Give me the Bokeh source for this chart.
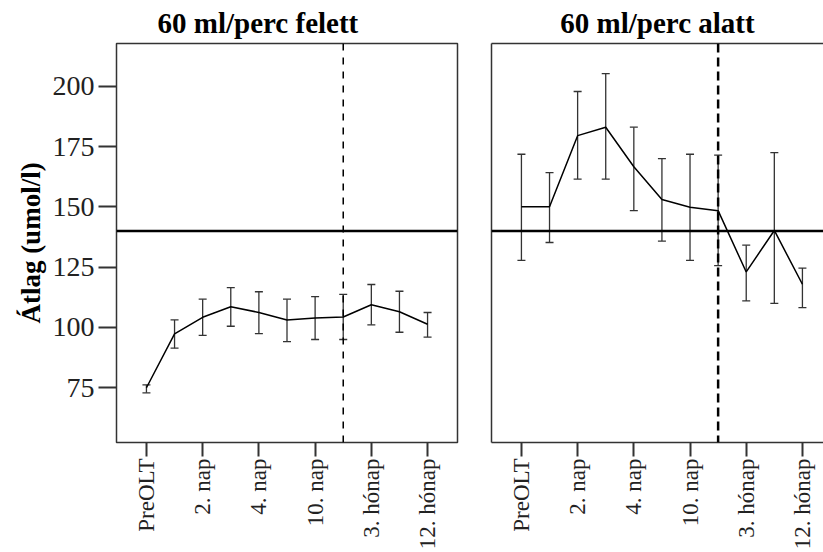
from math import pi
from bokeh.plotting import figure
from bokeh.models import (ColumnDataSource, Whisker, Span, FixedTicker, TeeHead,
                          Range1d, LinearAxis)
from bokeh.layouts import row
from bokeh.embed import file_html
from bokeh.resources import INLINE

# ---------------- data ----------------
categories = ["PreOLT", "1. nap", "2. nap", "3. nap", "4. nap", "7. nap",
              "10. nap", "1. hónap", "3. hónap", "6. hónap", "12. hónap"]
panel_titles = ["60 ml/perc felett", "60 ml/perc alatt"]
y_label = "Átlag (umol/l)"

above_mean = [75.0, 97.3, 104.2, 108.6, 106.2, 103.1, 103.9, 104.3, 109.4, 106.5, 101.3]
above_low = [72.9, 91.4, 96.7, 100.5, 97.4, 94.1, 95.0, 95.0, 101.1, 98.0, 96.0]
above_high = [76.2, 103.1, 111.7, 116.5, 114.8, 111.7, 112.8, 113.7, 117.8, 115.0, 106.2]

below_mean = [150.0, 150.0, 179.5, 183.0, 166.6, 153.0, 149.8, 148.4, 123.0, 140.2, 117.9]
below_low = [127.8, 135.2, 161.5, 161.5, 148.4, 135.8, 127.8, 125.6, 111.0, 110.0, 108.2]
below_high = [171.8, 164.2, 197.8, 205.2, 183.0, 170.0, 171.8, 171.4, 134.1, 172.5, 124.6]

reference_level = 140
marker_index = 7
y_ticks = [75, 100, 125, 150, 175, 200]
# --------------------------------------

FONT = "Liberation Serif"
FRAME = "#333333"
Y_RANGE = (52.3, 217.7)
tick_idx = list(range(0, len(categories), 2))
tick_labels = {i: categories[i] for i in tick_idx}


def make_panel(title, mean, low, high, width, x_end, left_border, right_border,
               show_y, dash, dash_width, title_align, title_offset):
    xs = list(range(len(categories)))
    src = ColumnDataSource(dict(x=xs, mean=mean, low=low, high=high))
    p = figure(width=width, height=552, output_backend="svg", toolbar_location=None,
               x_range=Range1d(-1.065, x_end), y_range=Range1d(*Y_RANGE),
               min_border_left=left_border, min_border_right=right_border,
               min_border_top=42, min_border_bottom=109, title=title)
    p.background_fill_color = "white"
    p.border_fill_color = "white"
    p.grid.visible = False
    p.title.text = title
    p.title.align = title_align
    p.title.offset = title_offset
    p.title.text_font = FONT
    p.title.text_font_style = "bold"
    p.title.text_font_size = "29px"
    p.title.text_color = "black"
    p.title.standoff = 9

    # x axis
    xa = p.xaxis[0]
    xa.ticker = FixedTicker(ticks=tick_idx)
    xa.major_label_overrides = tick_labels
    xa.major_label_orientation = pi / 2
    xa.major_label_text_font = FONT
    xa.major_label_text_font_size = "23px"
    xa.major_label_text_color = "#222222"
    xa.major_label_standoff = 2
    xa.major_tick_out = 14
    xa.major_tick_in = 0
    xa.major_tick_line_width = 2
    xa.major_tick_line_color = FRAME
    xa.minor_tick_line_color = None

    ya = p.yaxis[0]
    ya.minor_tick_line_color = None
    if show_y:
        ya.ticker = FixedTicker(ticks=y_ticks)
        ya.major_label_text_font = FONT
        ya.major_label_text_font_size = "28px"
        ya.major_label_text_color = "#222222"
        ya.major_label_standoff = 4
        ya.major_tick_out = 18
        ya.major_tick_in = 0
        ya.major_tick_line_width = 2
        ya.major_tick_line_color = FRAME
        ya.axis_label = y_label
        ya.axis_label_text_font = FONT
        ya.axis_label_text_font_style = "bold"
        ya.axis_label_text_font_size = "27px"
        ya.axis_label_text_color = "black"
        ya.axis_label_standoff = 4
        xa.axis_line_color = None
        ya.axis_line_color = None
        p.outline_line_color = FRAME
        p.outline_line_width = 1.5
        p.outline_line_alpha = 1.0
    else:
        ya.ticker = FixedTicker(ticks=[])
        ya.major_tick_out = 0
        ya.major_label_text_font_size = "0px"
        ya.axis_line_color = FRAME
        ya.axis_line_width = 1.5
        xa.axis_line_color = FRAME
        xa.axis_line_width = 1.5
        top = LinearAxis(ticker=FixedTicker(ticks=[]), major_tick_out=0,
                         major_label_text_font_size="0px",
                         axis_line_color=FRAME, axis_line_width=1.5)
        p.add_layout(top, "above")
        p.outline_line_color = None

    p.add_layout(Span(location=reference_level, dimension="width",
                      line_color="black", line_width=2.5))
    p.add_layout(Span(location=marker_index, dimension="height",
                      line_color="black", line_width=dash_width, line_dash=dash))

    w = Whisker(source=src, base="x", lower="low", upper="high",
                line_color="#333333", line_width=1.3,
                lower_head=TeeHead(size=8, line_color="#333333", line_width=1.3),
                upper_head=TeeHead(size=8, line_color="#333333", line_width=1.3))
    p.add_layout(w)
    p.line("x", "mean", source=src, line_color="black", line_width=1.5)
    return p


left = make_panel(panel_titles[0], above_mean, above_low, above_high,
                  width=474, x_end=11.065, left_border=116, right_border=17,
                  show_y=True, dash="7 7", dash_width=1.5,
                  title_align="left", title_offset=41)
right = make_panel(panel_titles[1], below_mean, below_low, below_high,
                   width=349, x_end=10.75, left_border=17, right_border=0,
                   show_y=False, dash="9 5", dash_width=2.5,
                   title_align="center", title_offset=0)

layout = row(left, right)
open("out.html", "w").write(file_html(layout, INLINE))
